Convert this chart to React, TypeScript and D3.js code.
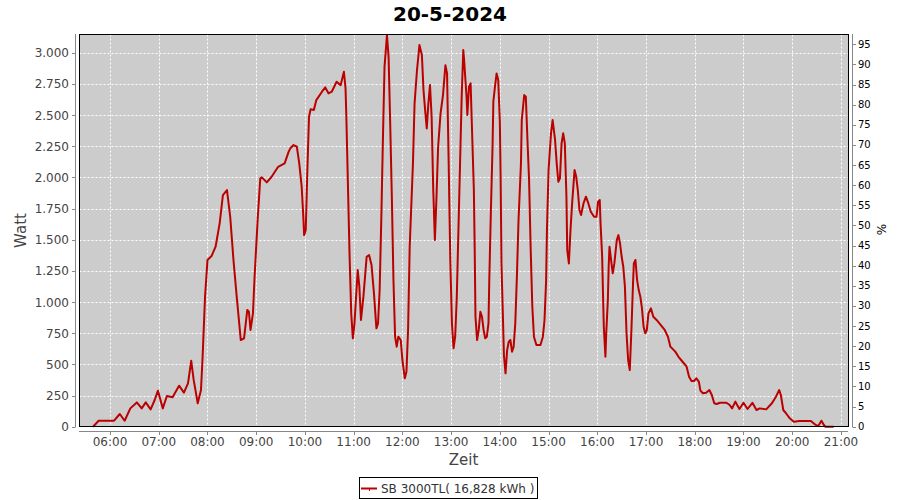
import React from "react";
import * as d3 from "d3";

const TITLE = "20-5-2024";
const SERIES_NAME = "SB 3000TL( 16,828 kWh )";
const times: string[] = [
  "05:39","05:46","06:05","06:12","06:18","06:25","06:33","06:39","06:44","06:50","06:55","06:59",
  "07:05","07:10","07:17","07:25","07:31","07:36","07:40","07:43","07:48","07:52","07:54","07:57",
  "08:00","08:05","08:10","08:15","08:19","08:24","08:28","08:32","08:36","08:41","08:45","08:49",
  "08:51","08:53","08:56","08:58","09:02","09:05","09:07","09:13","09:19","09:27","09:35","09:40",
  "09:42","09:46","09:50","09:53","09:56","09:58","09:59","10:01","10:03","10:05","10:07","10:11",
  "10:14","10:21","10:25","10:29","10:33","10:39","10:44","10:48","10:50","10:51","10:53","10:55",
  "10:57","10:59","11:01","11:03","11:05","11:07","11:09","11:12","11:16","11:19","11:22","11:25",
  "11:28","11:30","11:32","11:34","11:36","11:38","11:41","11:43","11:45","11:47","11:49","11:51",
  "11:53","11:55","11:58","12:00","12:03","12:05","12:07","12:09","12:13","12:15","12:18","12:21",
  "12:24","12:26","12:28","12:30","12:32","12:34","12:36","12:38","12:40","12:42","12:44","12:47",
  "12:50","12:53","12:55","12:57","12:59","13:01","13:03","13:05","13:07","13:09","13:11","13:13",
  "13:15","13:16","13:19","13:20","13:22","13:24","13:26","13:28","13:29","13:30","13:32","13:34",
  "13:36","13:38","13:40","13:42","13:44","13:46","13:47","13:49","13:51","13:52","13:54","13:56",
  "13:58","14:00","14:01","14:02","14:04","14:05","14:07","14:09","14:11","14:13","14:15","14:17",
  "14:19","14:21","14:23","14:26","14:27","14:30","14:32","14:34","14:36","14:38","14:40","14:42",
  "14:45","14:50","14:53","14:55","14:57","14:58","15:00","15:03","15:05","15:08","15:10","15:12",
  "15:14","15:16","15:18","15:20","15:22","15:23","15:25","15:27","15:29","15:32","15:34","15:36",
  "15:38","15:40","15:43","15:46","15:49","15:52","15:56","15:59","16:01","16:03","16:04","16:06",
  "16:07","16:08","16:10","16:11","16:13","16:14","16:15","16:17","16:19","16:21","16:24","16:26",
  "16:28","16:30","16:32","16:34","16:36","16:38","16:40","16:42","16:44","16:45","16:47","16:49",
  "16:51","16:53","16:55","16:57","16:59","17:01","17:03","17:06","17:09","17:13","17:18","17:23",
  "17:27","17:30","17:36","17:40","17:45","17:50","17:53","17:56","17:59","18:02","18:05","18:07",
  "18:10","18:14","18:18","18:21","18:24","18:27","18:31","18:39","18:43","18:46","18:50","18:55",
  "19:00","19:05","19:11","19:16","19:20","19:28","19:35","19:40","19:44","19:46","19:49","19:53",
  "19:57","20:02","20:09","20:23","20:29","20:32","20:36","20:39","20:41","20:51"
];
const watts: number[] = [
  0,48,48,102,48,147,195,147,195,139,214,289,
  147,246,236,329,273,348,529,375,188,294,561,1043,
  1337,1369,1444,1631,1858,1898,1684,1337,1043,695,709,936,
  922,776,909,1203,1684,1992,2000,1960,2005,2085,2112,2206,
  2233,2259,2246,2112,1925,1684,1537,1578,2059,2486,2546,2540,
  2620,2687,2722,2674,2687,2767,2740,2847,2714,2486,1925,1363,
  909,709,829,1043,1257,1123,856,1043,1363,1377,1297,1070,
  789,829,1096,1658,2300,2887,3141,2967,2433,1845,1176,722,
  642,722,695,535,388,441,776,1444,2112,2594,2861,3061,
  2981,2700,2540,2393,2594,2740,2486,1898,1497,1845,2246,2513,
  2660,2900,2834,2112,1337,829,629,722,1043,1578,2112,2647,
  3021,2941,2647,2500,2727,2754,2326,1898,1444,882,695,776,
  922,882,776,709,722,829,1176,1738,2246,2607,2727,2834,
  2781,2446,1978,1310,829,575,428,615,682,695,602,642,
  829,1203,1658,2112,2460,2660,2647,2300,1978,1417,962,722,
  655,655,722,856,1176,1578,2059,2353,2460,2300,2112,1965,
  1992,2273,2353,2273,1845,1417,1310,1578,1791,2059,2005,1898,
  1738,1698,1791,1845,1791,1724,1684,1684,1805,1818,1631,1363,
  1070,802,561,749,1016,1283,1444,1337,1230,1310,1497,1537,
  1471,1363,1283,1123,749,535,455,776,1150,1310,1337,1176,
  1096,1043,949,802,749,776,909,949,882,856,816,776,
  722,642,602,561,521,481,401,367,367,388,361,289,
  268,273,294,254,188,182,192,192,174,147,201,142,
  192,142,192,134,147,139,188,241,294,254,134,102,
  67,40,46,46,14,5,48,14,0,0
];
const leftTicks: number[] = [0,250,500,750,1000,1250,1500,1750,2000,2250,2500,2750,3000];
const rightTicks: number[] = [0,5,10,15,20,25,30,35,40,45,50,55,60,65,70,75,80,85,90,95];
const hourTicks: string[] = ["06:00","07:00","08:00","09:00","10:00","11:00","12:00","13:00","14:00","15:00","16:00","17:00","18:00","19:00","20:00","21:00"];

const toMin = (s: string) => {
  const [h, m] = s.split(":").map(Number);
  return h * 60 + m;
};
const fmtW = (v: number) => (v >= 1000 ? `${Math.floor(v / 1000)}.${String(v % 1000).padStart(3, "0")}` : `${v}`);

export default function App() {
  const L = 79.5, R = 848.5, T = 34.5, B = 426.5;
  const x = d3.scaleLinear().domain([321.8, 1268.7]).range([79, 848]);
  const y = d3.scaleLinear().domain([0, 3150]).range([426.7, 34]);
  const yr = d3.scaleLinear().domain([0, 97.56]).range([426.7, 34]);
  const line = d3
    .line<number>()
    .x((_, i) => x(toMin(times[i])))
    .y((d) => y(d));
  const font = "'DejaVu Sans', sans-serif";
  return (
    <svg width={900} height={500} style={{ position: "absolute", left: 0, top: 0, background: "#fff" }}>
      <text x={450} y={21} textAnchor="middle" fontFamily={font} fontWeight="bold" fontSize={20} fill="#000">
        {TITLE}
      </text>
      <rect x={L} y={T} width={R - L} height={B - T} fill="#cccccc" />
      {leftTicks.map((t) => (
        <line key={"hg" + t} x1={L} x2={R} y1={Math.round(y(t)) + 0.5} y2={Math.round(y(t)) + 0.5} stroke="#fff" strokeDasharray="2,2" />
      ))}
      {hourTicks.map((h) => (
        <line key={"vg" + h} y1={T} y2={B} x1={Math.round(x(toMin(h))) + 0.5} x2={Math.round(x(toMin(h))) + 0.5} stroke="#fff" strokeDasharray="2,2" />
      ))}
      <path d={line(watts) || ""} fill="none" stroke="#bb0000" strokeWidth={2} strokeLinejoin="round" />
      <rect x={L} y={T} width={R - L} height={B - T} fill="none" stroke="#000" strokeWidth={1} />
      {/* left axis */}
      <line x1={75.5} x2={75.5} y1={34} y2={427} stroke="#888" />
      {leftTicks.map((t) => (
        <g key={"lt" + t}>
          <line x1={72} x2={75.5} y1={Math.round(y(t)) + 0.5} y2={Math.round(y(t)) + 0.5} stroke="#888" />
          <text x={69} y={y(t) + 4.5} textAnchor="end" fontFamily={font} fontSize={12} fill="#444">
            {fmtW(t)}
          </text>
        </g>
      ))}
      <text transform="translate(26,230.5) rotate(-90)" textAnchor="middle" fontFamily={font} fontSize={15} fill="#444">
        Watt
      </text>
      {/* right axis */}
      <line x1={852.5} x2={852.5} y1={34} y2={427} stroke="#888" />
      {rightTicks.map((t) => (
        <g key={"rt" + t}>
          <line x1={852.5} x2={856} y1={Math.round(yr(t)) + 0.5} y2={Math.round(yr(t)) + 0.5} stroke="#888" />
          <text x={858} y={yr(t) + 3.5} textAnchor="start" fontFamily={font} fontSize={10} fill="#000">
            {t}
          </text>
        </g>
      ))}
      <text transform="translate(886,229.5) rotate(-90)" textAnchor="middle" fontFamily={font} fontSize={12} fill="#000">
        %
      </text>
      {/* bottom axis */}
      <line x1={79} x2={848} y1={431.5} y2={431.5} stroke="#888" />
      {hourTicks.map((h) => (
        <g key={"bt" + h}>
          <line x1={Math.round(x(toMin(h))) + 0.5} x2={Math.round(x(toMin(h))) + 0.5} y1={431.5} y2={435} stroke="#888" />
          <text x={x(toMin(h))} y={446} textAnchor="middle" fontFamily={font} fontSize={12} fill="#444">
            {h}
          </text>
        </g>
      ))}
      <text x={463.5} y={465} textAnchor="middle" fontFamily={font} fontSize={15} fill="#444">
        Zeit
      </text>
      {/* legend */}
      <rect x={359.5} y={477.5} width={178} height={21} fill="#fff" stroke="#000" />
      <line x1={361} x2={377} y1={488.5} y2={488.5} stroke="#bb0000" strokeWidth={2} />
      <line x1={369.5} x2={369.5} y1={488} y2={491} stroke="#bb0000" strokeWidth={1} />
      <text x={381} y={493} fontFamily={font} fontSize={12} fill="#333">
        {SERIES_NAME}
      </text>
    </svg>
  );
}
